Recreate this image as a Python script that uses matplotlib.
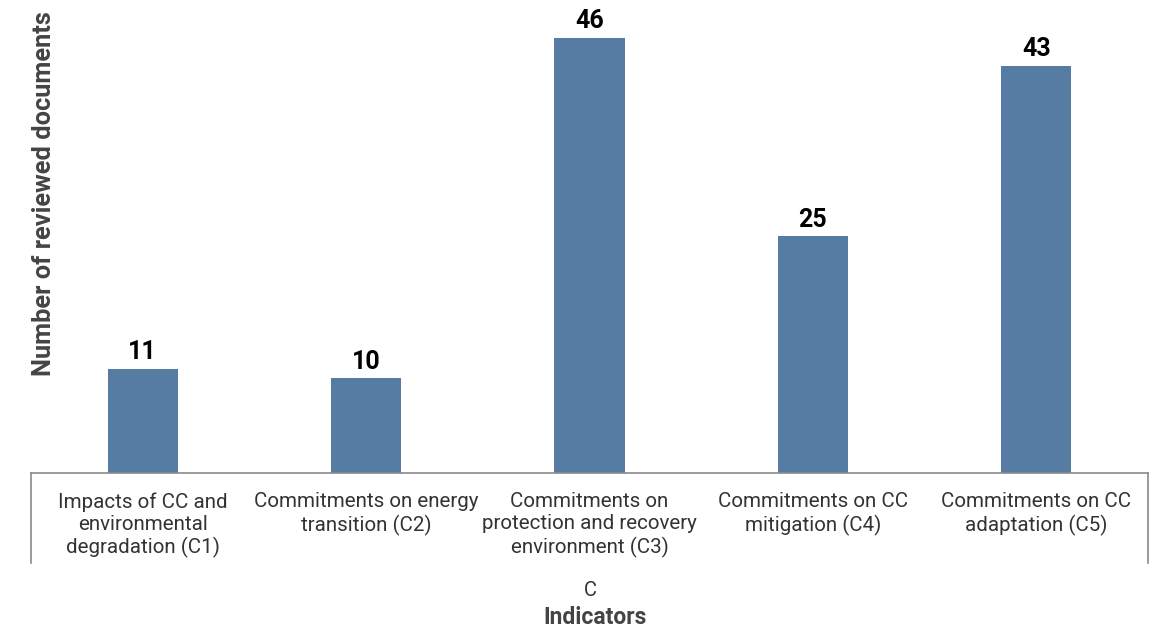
"""Bar chart: number of reviewed documents per indicator (group C)."""

import matplotlib

matplotlib.use("Agg")

import matplotlib.pyplot as plt
from matplotlib.lines import Line2D

plt.rcParams["font.family"] = ["Roboto", "DejaVu Sans"]

categories = [
    "Impacts of CC and\nenvironmental\ndegradation (C1)",
    "Commitments on energy\ntransition (C2)",
    "Commitments on\nprotection and recovery\nenvironment (C3)",
    "Commitments on CC\nmitigation (C4)",
    "Commitments on CC\nadaptation (C5)",
]
counts = [11, 10, 46, 25, 43]
group_label = "C"

BAR_COLOR = "#577ca4"
TEXT_COLOR = "#333333"
AXIS_COLOR = "#8a8a8a"

fig = plt.figure(figsize=(11.57, 6.27), dpi=100)
ax = fig.add_axes([31 / 1157, 154 / 627, (1148 - 31) / 1157, 473 / 627])

x = range(len(categories))
bars = ax.bar(x, counts, width=0.315, color=BAR_COLOR, zorder=2)
for rect, value in zip(bars, counts):
    ax.text(
        rect.get_x() + rect.get_width() / 2,
        value + 0.5,
        str(value),
        ha="center",
        va="bottom",
        fontsize=18,
        fontweight="bold",
        color="black",
    )

ax.set_xlim(-0.5, len(categories) - 0.5)
ax.set_ylim(0, 50)
ax.set_yticks([])
ax.set_xticks(list(x))
ax.set_xticklabels(categories, fontsize=14.8, color=TEXT_COLOR, linespacing=1.2)
ax.tick_params(axis="x", length=0, pad=14)

for side in ["top", "right", "left"]:
    ax.spines[side].set_visible(False)
ax.spines["bottom"].set_color(AXIS_COLOR)
ax.spines["bottom"].set_linewidth(1.2)

# bracket ends of the category axis
for xe in (-0.5, len(categories) - 0.5):
    ax.add_line(
        Line2D([xe, xe], [0, -90 / 473 * 50], color=AXIS_COLOR, lw=1.2, clip_on=False)
    )

ax.set_ylabel(
    "Number of reviewed documents",
    fontsize=18.3,
    fontweight="bold",
    color="#444444",
)
ax.yaxis.set_label_coords(25 / 1117, (473 - 194) / 473)

fig.text(590 / 1157, 1 - 590 / 627, group_label, ha="center", va="center",
         fontsize=14.5, color=TEXT_COLOR)
fig.text(595 / 1157, 1 - 617 / 627, "Indicators", ha="center", va="center",
         fontsize=16.5, fontweight="bold", color="#444444")

fig.savefig("out.png", dpi=100)
plt.close(fig)
